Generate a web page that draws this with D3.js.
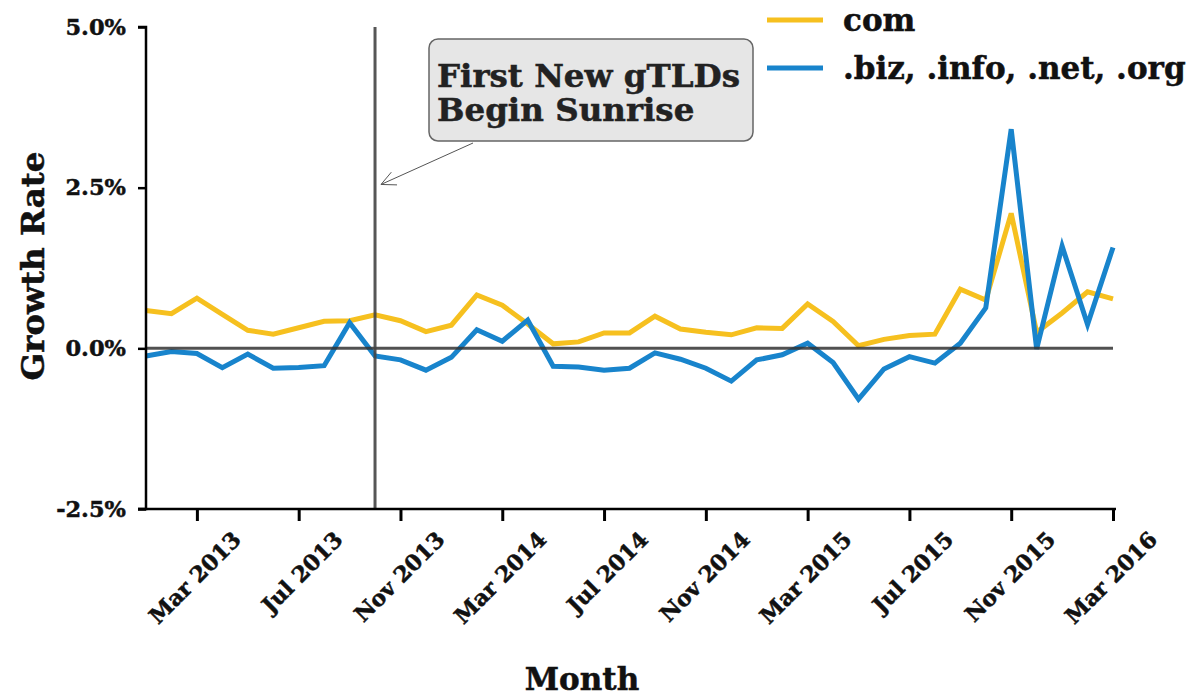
<!DOCTYPE html>
<html>
<head>
<meta charset="utf-8">
<script src="https://cdn.jsdelivr.net/npm/d3@7"></script>
<style>
  html, body { margin: 0; padding: 0; background: #fff; }
  svg { display: block; }
  text { font-family: "DejaVu Serif", "Liberation Serif", serif; font-weight: bold; fill: #111; stroke: #111; stroke-width: 0.5px; }
</style>
</head>
<body>
<svg id="chart" width="1194" height="696"></svg>
<script>
// ---- data ----
const months = [
  "2013-01","2013-02","2013-03","2013-04","2013-05","2013-06","2013-07","2013-08","2013-09","2013-10","2013-11","2013-12",
  "2014-01","2014-02","2014-03","2014-04","2014-05","2014-06","2014-07","2014-08","2014-09","2014-10","2014-11","2014-12",
  "2015-01","2015-02","2015-03","2015-04","2015-05","2015-06","2015-07","2015-08","2015-09","2015-10","2015-11","2015-12",
  "2016-01","2016-02","2016-03"
];
const comGrowth = [
  0.59, 0.54, 0.78, 0.53, 0.28, 0.22, 0.32, 0.42, 0.43, 0.52, 0.43, 0.26,
  0.36, 0.83, 0.67, 0.38, 0.07, 0.10, 0.24, 0.24, 0.50, 0.30, 0.25, 0.21,
  0.32, 0.31, 0.69, 0.42, 0.04, 0.14, 0.20, 0.22, 0.92, 0.75, 2.10, 0.25,
  0.55, 0.88, 0.77
];
const otherGrowth = [
  -0.12, -0.05, -0.08, -0.30, -0.09, -0.31, -0.30, -0.27, 0.40, -0.12, -0.18, -0.34,
  -0.14, 0.29, 0.11, 0.44, -0.28, -0.29, -0.34, -0.31, -0.07, -0.17, -0.31, -0.51,
  -0.18, -0.10, 0.08, -0.22, -0.79, -0.32, -0.13, -0.23, 0.08, 0.63, 3.41, -0.01,
  1.59, 0.37, 1.57
];
const seriesNames = ["com", ".biz, .info, .net, .org"];
const seriesColors = ["#f6c01f", "#1884cc"];
const yTickValues = [-2.5, 0, 2.5, 5.0];
const xTickMonths = ["2013-03","2013-07","2013-11","2014-03","2014-07","2014-11","2015-03","2015-07","2015-11","2016-03"];
const sunriseMonth = "2013-10";
const annotationLines = ["First New gTLDs", "Begin Sunrise"];
const yTitle = "Growth Rate";
const xTitle = "Month";

// ---- scales ----
const parse = d3.timeParse("%Y-%m");
const fmtTick = d3.timeFormat("%b %Y");
const pLeft = 146, pRight = 1113, pTop = 27, pBottom = 509;

const x = d3.scalePoint().domain(months).range([pLeft, pRight]);
const y = d3.scaleLinear().domain([-2.5, 5.0]).range([pBottom, pTop]);

const svg = d3.select("#chart");

// ---- data lines ----
const line = d3.line().x((d, i) => x(months[i])).y(d => y(d));
[comGrowth, otherGrowth].forEach((vals, k) => {
  svg.append("path")
    .datum(vals)
    .attr("d", line)
    .attr("fill", "none")
    .attr("stroke", seriesColors[k])
    .attr("stroke-width", 5)
    .attr("stroke-linejoin", "miter");
});

// ---- zero line and sunrise line ----
svg.append("line")
  .attr("x1", pLeft).attr("x2", pRight)
  .attr("y1", y(0)).attr("y2", y(0))
  .attr("stroke", "#333").attr("stroke-opacity", 0.85).attr("stroke-width", 3);

svg.append("line")
  .attr("x1", x(sunriseMonth)).attr("x2", x(sunriseMonth))
  .attr("y1", pTop).attr("y2", pBottom)
  .attr("stroke", "#444").attr("stroke-opacity", 0.9).attr("stroke-width", 3);

// ---- axes ----
const yAxis = d3.axisLeft(y).tickValues(yTickValues).tickSize(8)
  .tickFormat(d => d.toFixed(1) + "%").tickPadding(12);
const gy = svg.append("g").attr("transform", `translate(${pLeft},0)`).call(yAxis);
gy.select(".domain").attr("stroke", "#000").attr("stroke-width", 2.5)
  .attr("d", `M-8,${pTop}H0V${pBottom}H-8`);
gy.selectAll(".tick line").attr("stroke", "#000").attr("stroke-width", 2.5);
gy.selectAll(".tick text")
  .style("font-family", '"DejaVu Serif", serif').style("font-weight", "bold")
  .style("font-size", "22.5px").attr("fill", "#111");

const xAxis = d3.axisBottom(x).tickValues(xTickMonths).tickSize(12).tickFormat(m => fmtTick(parse(m)));
const gx = svg.append("g").attr("transform", `translate(0,${pBottom})`).call(xAxis);
gx.select(".domain").attr("stroke", "#000").attr("stroke-width", 2.5)
  .attr("d", `M${pLeft - 8},0H${pRight + 3}`);
gx.selectAll(".tick line").attr("stroke", "#000").attr("stroke-width", 3);
gx.selectAll(".tick text")
  .style("font-family", '"DejaVu Serif", serif').style("font-weight", "bold")
  .style("font-size", "22px").attr("fill", "#111")
  .attr("text-anchor", "end")
  .attr("y", 0).attr("dy", 0)
  .attr("transform", "translate(45,32) rotate(-45)");

// ---- axis titles ----
svg.append("text")
  .attr("transform", `translate(44,266) rotate(-90)`)
  .attr("text-anchor", "middle")
  .style("font-size", "32.5px")
  .text(yTitle);

svg.append("text")
  .attr("x", 582).attr("y", 690)
  .attr("text-anchor", "middle")
  .style("font-size", "31px")
  .text(xTitle);

// ---- legend ----
seriesNames.forEach((name, k) => {
  const ly = 20 + k * 48;
  svg.append("line")
    .attr("x1", 767).attr("x2", 823).attr("y1", ly).attr("y2", ly)
    .attr("stroke", seriesColors[k]).attr("stroke-width", 5);
  svg.append("text")
    .attr("x", 843).attr("y", ly + 11)
    .style("font-size", "31px")
    .text(name);
});

// ---- annotation ----
const bx = 429, byTop = 39, bw = 324, bh = 102;
svg.append("rect")
  .attr("x", bx).attr("y", byTop).attr("width", bw).attr("height", bh)
  .attr("rx", 9).attr("ry", 9)
  .attr("fill", "#e6e6e6").attr("stroke", "#666").attr("stroke-width", 1.5);
annotationLines.forEach((t, i) => {
  svg.append("text")
    .attr("x", bx + 8).attr("y", byTop + 48 + i * 34)
    .style("font-size", "32.5px").style("fill", "#222").style("stroke", "#222")
    .text(t);
});
// arrow pointing to sunrise line
const ax1 = 473, ay1 = byTop + bh + 2;
const ax2 = x(sunriseMonth) + 6, ay2 = y(2.55);
svg.append("line")
  .attr("x1", ax1).attr("y1", ay1).attr("x2", ax2).attr("y2", ay2)
  .attr("stroke", "#555").attr("stroke-width", 1);
const ang = Math.atan2(ay1 - ay2, ax1 - ax2);
[0.45, -0.45].forEach(da => {
  svg.append("line")
    .attr("x1", ax2).attr("y1", ay2)
    .attr("x2", ax2 + 16 * Math.cos(ang + da)).attr("y2", ay2 + 16 * Math.sin(ang + da))
    .attr("stroke", "#555").attr("stroke-width", 1);
});
</script>
</body>
</html>
